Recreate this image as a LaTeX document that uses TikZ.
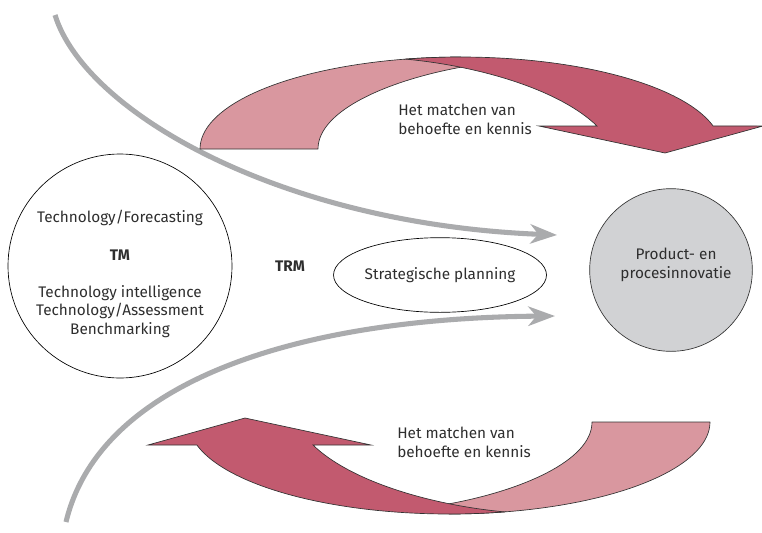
\documentclass[tikz,border=0pt]{standalone}
\usepackage{fontspec}
\setmainfont{Fira Sans}
\usetikzlibrary{arrows.meta,shapes.geometric}
\definecolor{lightpink}{HTML}{D9979F}
\definecolor{darkpink}{HTML}{C25A6F}
\definecolor{flowgray}{HTML}{AAABAD}
\definecolor{circgray}{HTML}{D1D2D4}
\definecolor{txtcol}{HTML}{2E2E2E}
\begin{document}
\begin{tikzpicture}[x=0.75pt,y=-0.75pt,
  every node/.style={text=txtcol,font=\fontsize{11.5pt}{14.25pt}\selectfont},
  lbl/.style={inner sep=0pt,anchor=center},
  lightpiece/.style={fill=lightpink,draw=black!80,line width=0.5pt,line join=round},
  darkpiece/.style={fill=darkpink,draw=black!80,line width=0.5pt,line join=miter},
  flow/.style={draw=flowgray,line width=3.8pt,-{Stealth[length=20pt,width=14.5pt,inset=6pt]}},
  bigcircle/.style={circle,draw=black,line width=0.5pt,minimum size=168pt,inner sep=0pt},
  innocircle/.style={circle,draw=black!80,fill=circgray,line width=0.5pt,minimum size=122pt,inner sep=0pt},
  planell/.style={ellipse,draw=black,line width=0.5pt,minimum width=139.5pt,minimum height=56pt,inner sep=0pt}
]
\useasboundingbox (0,0) rectangle (762,532);
\clip (0,0) rectangle (762,532);

% gray flow curves
\coordinate (f1s) at (55,15);
\coordinate (f1e) at (557,235);
\coordinate (f2s) at (66,522);
\coordinate (f2e) at (555,316);
\draw[flow] (f1s) .. controls (85,112) and (280,224) .. (f1e);
\draw[flow] (f2s) .. controls (100,380) and (300,318) .. (f2e);

% top curved arrow
\path[lightpiece] plot[domain=180:270,samples=40] ({460.7+260.7*cos(\x)},{149+92*sin(\x)})
  -- (462,67) .. controls (390,80) and (318,110) .. (318,149) -- cycle;
\path[darkpiece] plot[domain=257.7:345.5,samples=60] ({460.7+260.7*cos(\x)},{149+92*sin(\x)})
  -- (763,126) -- (665,153) -- (539,126) -- (597,126)
  .. controls (560,90) and (480,66) .. (405.2,59.1) -- cycle;

% bottom curved arrow (rotated copy)
\begin{scope}[rotate around={180:(455,285.5)}]
\path[lightpiece] plot[domain=180:270,samples=40] ({460.7+260.7*cos(\x)},{149+92*sin(\x)})
  -- (462,67) .. controls (390,80) and (318,110) .. (318,149) -- cycle;
\path[darkpiece] plot[domain=257.7:345.5,samples=60] ({460.7+260.7*cos(\x)},{149+92*sin(\x)})
  -- (762,126) -- (665,153) -- (539,126) -- (597,126)
  .. controls (560,90) and (480,66) .. (405.2,59.1) -- cycle;
\end{scope}

% labels of the curved arrows
\node[lbl,anchor=west,align=left] (match1) at (398,119) {Het matchen van\\behoefte en kennis};
\node[lbl,anchor=west,align=left] (match2) at (397,442) {Het matchen van\\behoefte en kennis};

% left circle
\node[bigcircle] (tm) at (120,266) {};
\node[lbl] (tf) at (120,218) {Technology/Forecasting};
\node[lbl,font=\fontsize{11.5pt}{14.25pt}\selectfont\bfseries] (tmlbl) at (120,255) {TM};
\node[lbl] (ti) at (120,293) {Technology intelligence};
\node[lbl] (ta) at (120,311) {Technology/Assessment};
\node[lbl] (bm) at (120,330) {Benchmarking};

% TRM and planning
\node[lbl,font=\fontsize{11.5pt}{14.25pt}\selectfont\bfseries] (trm) at (290,266) {TRM};
\node[planell] (sp) at (440,275) {Strategische planning};

% right circle
\node[innocircle] (pi) at (671,270) {};
\node[lbl,align=center] (pitxt) at (676,265) {Product- en\\procesinnovatie};
\end{tikzpicture}
\end{document}
